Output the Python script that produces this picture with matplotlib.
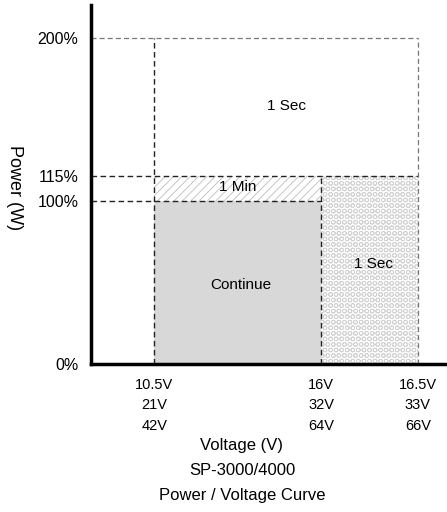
import matplotlib
matplotlib.use('Agg')
import matplotlib.pyplot as plt

plt.rcParams['font.family'] = 'Liberation Sans'
plt.rcParams['hatch.linewidth'] = 0.6

# data
volt_12 = ['10.5V', '16V', '16.5V']
volt_24 = ['21V', '32V', '33V']
volt_48 = ['42V', '64V', '66V']
power_levels = [0, 100, 115, 200]
power_labels = ['0%', '100%', '115%', '200%']
zone_text = ['Continue', '1 Min', '1 Sec', '1 Sec']

# layout: where the voltage columns sit along the (schematic) x axis
x_slot = [0.178, 0.648, 0.921]

fig = plt.figure(figsize=(4.47, 5.12), dpi=100)
ax = fig.add_axes([91/447, 148/512, 355/447, 359/512])
ax.set_xlim(0, 1)
ax.set_ylim(0, 220)

w_main = x_slot[1] - x_slot[0]
w_side = x_slot[2] - x_slot[1]

# zones
ax.bar(x_slot[0], power_levels[1], width=w_main, align='edge',
       color='#d8d8d8', edgecolor='none', zorder=1)
ax.bar(x_slot[0], power_levels[2] - power_levels[1], bottom=power_levels[1],
       width=w_main, align='edge', facecolor='white', edgecolor='#bdbdbd',
       hatch='////', linewidth=0, zorder=1)
ax.bar(x_slot[1], power_levels[2], width=w_side, align='edge',
       facecolor='white', edgecolor='#d2d2d2', hatch='OOO',
       linewidth=0, zorder=1)

# dashed guide lines
dash = (0, (4, 2.5))
ax.hlines(power_levels[3], 0, x_slot[2], colors='#777777', linestyles=dash, lw=0.9, zorder=2)
ax.hlines(power_levels[2], 0, x_slot[2], colors='#222222', linestyles=dash, lw=1.0, zorder=2)
ax.hlines(power_levels[1], 0, x_slot[1], colors='#222222', linestyles=dash, lw=1.0, zorder=2)
ax.vlines(x_slot[0], 0, power_levels[3], colors='#222222', linestyles=dash, lw=1.0, zorder=2)
ax.vlines(x_slot[1], 0, power_levels[2], colors='#222222', linestyles=dash, lw=1.0, zorder=2)
ax.vlines(x_slot[2], 0, power_levels[3], colors='#777777', linestyles=dash, lw=0.9, zorder=2)

# zone labels
fs = 11
ax.text((x_slot[0] + x_slot[1]) / 2 + 0.01, power_levels[1] / 2 - 1.5, zone_text[0],
        ha='center', va='center', fontsize=fs)
ax.text((x_slot[0] + x_slot[1]) / 2, (power_levels[1] + power_levels[2]) / 2 + 1,
        zone_text[1], ha='center', va='center', fontsize=fs)
ax.text((x_slot[1] + x_slot[2]) / 2 + 0.01, power_levels[2] / 2 + 3.5, zone_text[2],
        ha='center', va='center', fontsize=fs)
ax.text((x_slot[0] + x_slot[2]) / 2, (power_levels[2] + power_levels[3]) / 2 + 0.5,
        zone_text[3], ha='center', va='center', fontsize=fs)

# axes styling
for s in ['top', 'right']:
    ax.spines[s].set_visible(False)
for s in ['left', 'bottom']:
    ax.spines[s].set_linewidth(2.5)
ax.set_yticks(power_levels)
ax.set_yticklabels(power_labels, fontsize=11.5)
ax.set_xticks(x_slot)
ax.set_xticklabels([a + '\n' + b + '\n' + c for a, b, c in zip(volt_12, volt_24, volt_48)],
                   fontsize=10.5, linespacing=1.6)
ax.tick_params(axis='y', length=0, pad=9)
ax.tick_params(axis='x', length=0, pad=10)

fig.text(14/447, 1 - 188/512, 'Power (W)', rotation=270, ha='center', va='center', fontsize=13)
fig.text(242/447, 1 - 438/512, 'Voltage (V)\nSP-3000/4000\nPower / Voltage Curve',
         ha='center', va='top', fontsize=12, linespacing=1.85)

fig.savefig('out.png', dpi=100)
